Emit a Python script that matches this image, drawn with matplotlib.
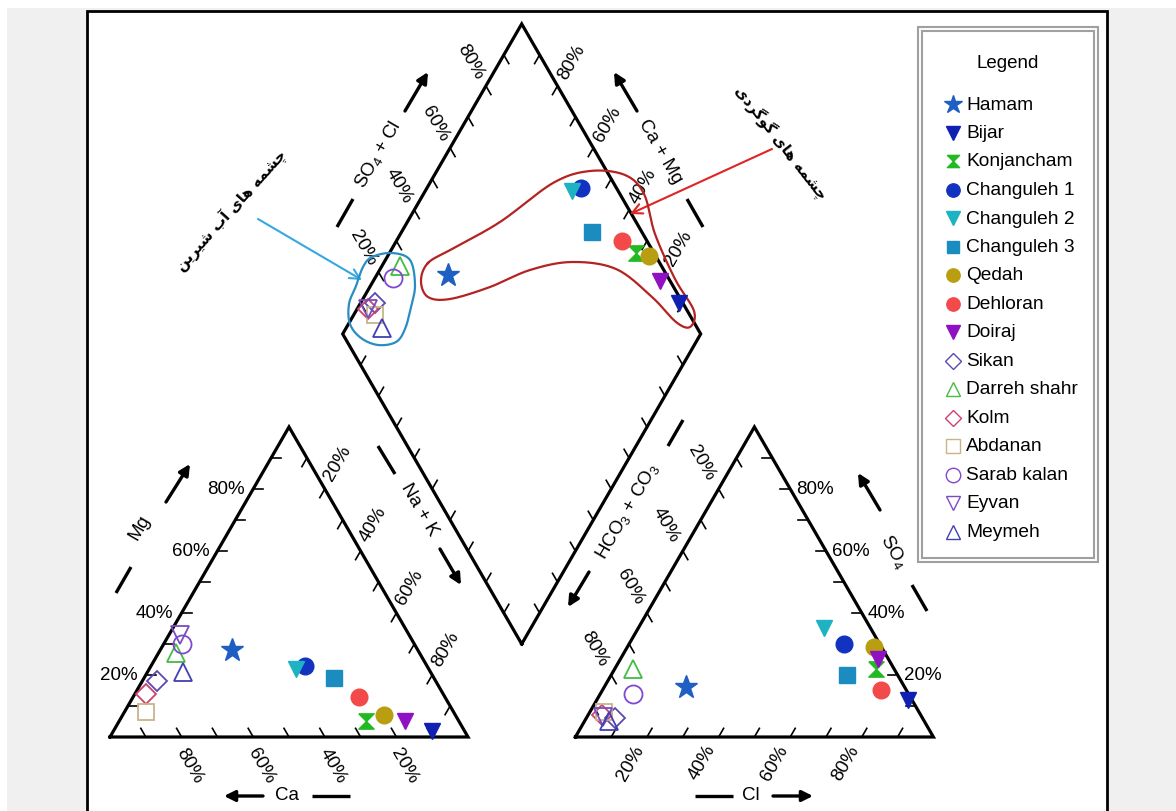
import numpy as np
import matplotlib
matplotlib.use('Agg')
import matplotlib.pyplot as plt
from matplotlib.path import Path
from matplotlib.patches import Rectangle

plt.rcParams['font.family'] = ['Liberation Sans', 'DejaVu Sans']
plt.rcParams['mathtext.fontset'] = 'custom'
plt.rcParams['mathtext.rm'] = 'Liberation Sans'
plt.rcParams['mathtext.it'] = 'Liberation Sans:italic'

# ---------------- data (meq %) ----------------
names = ['Hamam', 'Bijar', 'Konjancham', 'Changuleh 1', 'Changuleh 2', 'Changuleh 3',
         'Qedah', 'Dehloran', 'Doiraj', 'Sikan', 'Darreh shahr', 'Kolm', 'Abdanan',
         'Sarab kalan', 'Eyvan', 'Meymeh']
ca   = [52, 9, 26, 34, 37, 28, 20, 24, 15, 78, 68, 83, 86, 65, 64, 69]
mg   = [28, 2, 5, 23, 22, 19, 7, 13, 5, 18, 27, 14, 8, 30, 33, 21]
nak  = [20, 89, 69, 43, 41, 53, 73, 63, 80, 4, 5, 3, 6, 5, 3, 10]
hco3 = [61, 1, 5, 10, 13, 14, 2, 7, 3, 86, 73, 89, 88, 77, 89, 88]
so4  = [16, 12, 22, 30, 35, 20, 29, 15, 25, 6, 22, 7, 8, 14, 6.5, 5]
cl   = [23, 87, 73, 60, 52, 66, 69, 78, 72, 8, 5, 4, 4, 9, 4.5, 7]
pct_ticks = [20, 40, 60, 80]

colors = ['#1f5fc4', '#1020b0', '#22b922', '#1232c0', '#1fb2c2', '#1a8cc0',
          '#b89e10', '#f24a4a', '#9010c4', '#5a4aae', '#44bb44', '#d0406e',
          '#c8b488', '#8048d0', '#7a4cc0', '#4040b4']
hourglass = Path([(-1, 1), (1, 1), (0, 0), (1, -1), (-1, -1), (0, 0), (-1, 1)])
markers = ['*', 'v', hourglass, 'o', 'v', 's', 'o', 'o', 'v', 'D', '^', 'D', 's', 'o', 'v', '^']
filled  = [True]*9 + [False]*7
msizes  = [17, 12, 11, 12, 12, 11, 12, 12, 12, 10, 13, 10, 12, 13, 13, 13]

# ---------------- geometry ----------------
W, H = 1176, 812
S, X0, Y0 = 358.0, 110.0, 738.0
h = np.sqrt(3) / 2
g = 0.3


def P(px, py):
    return ((px - X0) / S, (Y0 - py) / S)


def cat_xy(a, m, n):
    t = a + m + n
    return n / t + 0.5 * m / t, h * m / t


def an_xy(b, s, c):
    t = b + s + c
    return 1 + g + c / t + 0.5 * s / t, h * s / t


def dia_xy(a, m, n, b, s, c):
    camg = (a + m) / (a + m + n)
    so4cl = (s + c) / (b + s + c)
    bx, by = 1 + g / 2, g * h
    return bx + 0.5 * (so4cl - camg), by + h * (camg + so4cl)


fig = plt.figure(figsize=(W / 100, H / 100), dpi=100, facecolor='white')
ax = fig.add_axes([0, 0, 1, 1])
ax.set_xlim(P(0, 0)[0], P(W, 0)[0])
ax.set_ylim(P(0, H)[1], P(0, 0)[1])
ax.set_aspect('equal')
ax.axis('off')
ax.patch.set_visible(False)

# background and panel
x, y = P(7, H)
ax.add_patch(Rectangle((x, y), (W - 7) / S, (H - 9) / S, facecolor='#f0f0f0', edgecolor='none', zorder=0))
x, y = P(87, 840)
ax.add_patch(Rectangle((x, y), (1107 - 87) / S, (840 - 12) / S, facecolor='white', edgecolor='black', lw=2, zorder=0.5))

A0, A1, A2 = np.array([0, 0]), np.array([1, 0]), np.array([0.5, h])
B0, B1, B2 = np.array([1 + g, 0]), np.array([2 + g, 0]), np.array([1.5 + g, h])
Db = np.array([1 + g / 2, g * h])
Dl, Dt, Dr = Db + [-0.5, h], Db + [0, 2 * h], Db + [0.5, h]

LW = 2.3
for poly in ([A0, A1, A2, A0], [B0, B1, B2, B0], [Db, Dl, Dt, Dr, Db]):
    poly = np.array(poly)
    ax.plot(poly[:, 0], poly[:, 1], color='black', lw=LW, solid_joinstyle='miter', zorder=2)

# ticks every 10 %
L = 10 / S
edges = [(A0, A1, (-0.5, h)), (A0, A2, (1, 0)), (A2, A1, (-0.5, -h)),
         (B0, B1, (0.5, h)), (B1, B2, (-1, 0)), (B2, B0, (0.5, -h)),
         (Dl, Dt, (0.5, -h)), (Dr, Dt, (-0.5, -h)), (Db, Dl, (0.5, h)), (Db, Dr, (-0.5, h))]
for p0, p1, d in edges:
    d = np.array(d) / np.hypot(*d)
    for k in range(1, 10):
        p = p0 + (p1 - p0) * k / 10
        ax.plot([p[0], p[0] + L * d[0]], [p[1], p[1] + L * d[1]], color='black', lw=1.2, zorder=2)

FS = 13.5


def off(dx, dy):
    return np.array([dx / S, -dy / S])


for v in pct_ticks:
    f = v / 100
    t = f'{v}%'
    # cation bottom (Ca)
    p = A0 + (A1 - A0) * (1 - f) + off(8, 28)
    ax.text(p[0], p[1], t, rotation=-60, ha='center', va='center', fontsize=FS)
    # cation left (Mg)
    p = A0 + (A2 - A0) * f + off(-8, 0)
    ax.text(p[0], p[1], t, ha='right', va='center', fontsize=FS)
    # cation right (Na+K)
    p = A2 + (A1 - A2) * f + off(13, -27)
    ax.text(p[0], p[1], t, rotation=60, ha='center', va='center', fontsize=FS)
    # anion bottom (Cl)
    p = B0 + (B1 - B0) * f + off(-16, 25)
    ax.text(p[0], p[1], t, rotation=60, ha='center', va='center', fontsize=FS)
    # anion right (SO4)
    p = B1 + (B2 - B1) * f + off(6, 0)
    ax.text(p[0], p[1], t, ha='left', va='center', fontsize=FS)
    # anion left (HCO3+CO3)
    p = B2 + (B0 - B2) * f + off(-17, -27)
    ax.text(p[0], p[1], t, rotation=-60, ha='center', va='center', fontsize=FS)
    # diamond upper-left (SO4+Cl)
    p = Dl + (Dt - Dl) * f + off(-15, -25)
    ax.text(p[0], p[1], t, rotation=-60, ha='center', va='center', fontsize=FS)
    # diamond upper-right (Ca+Mg)
    p = Dr + (Dt - Dr) * f + off(14, -24)
    ax.text(p[0], p[1], t, rotation=60, ha='center', va='center', fontsize=FS)

# axis names with dash and arrow
FN = 13.5


def arrow(tail, tip):
    ax.annotate('', xy=P(*tip), xytext=P(*tail),
                arrowprops=dict(arrowstyle='-|>', lw=2.4, color='black', mutation_scale=16,
                                shrinkA=0, shrinkB=0))


def dash(a, b):
    pa, pb = P(*a), P(*b)
    ax.plot([pa[0], pb[0]], [pa[1], pb[1]], color='black', lw=2.4, solid_capstyle='butt')


def name(pos, txt, rot):
    ax.text(*P(*pos), txt, rotation=rot, ha='center', va='center', fontsize=FN)

# Mg
dash((116, 594), (131, 568)); name((140, 528), 'Mg', 60); arrow((166, 503), (190, 465))
# Ca
arrow((263, 797), (224, 797)); name((287, 796), 'Ca', 0); dash((312, 797), (350, 797))
# Cl
dash((695, 797), (733, 797)); name((751, 796), 'Cl', 0); arrow((773, 797), (813, 797))
# SO4 (anion)
arrow((880, 511), (858, 474)); name((894, 552), r'SO$_4$', -60); dash((912, 586), (927, 612))
# SO4 + Cl
dash((337, 228), (353, 200)); name((378, 155), r'SO$_4$ + Cl', 60); arrow((405, 112), (428, 73))
# Ca + Mg
arrow((637, 112), (614, 73)); name((660, 152), 'Ca + Mg', -60); dash((687, 200), (703, 228))
# Na + K
dash((378, 447), (395, 475)); name((419, 510), 'Na + K', -60); arrow((440, 550), (461, 586))
# HCO3 + CO3
arrow((589, 573), (568, 608)); name((627, 511), r'HCO$_3$ + CO$_3$', 60); dash((668, 447), (683, 421))

# ---------------- data points ----------------
for i in range(len(names)):
    kw = dict(marker=markers[i], ls='none', ms=msizes[i], mec=colors[i],
              mfc=colors[i] if filled[i] else 'none', mew=1.0 if filled[i] else 1.3, zorder=5 + i * 0.01)
    cx, cy = cat_xy(ca[i], mg[i], nak[i])
    axx, ayy = an_xy(hco3[i], so4[i], cl[i])
    dx, dy = dia_xy(ca[i], mg[i], nak[i], hco3[i], so4[i], cl[i])
    ax.plot([cx, axx, dx], [cy, ayy, dy], **kw)

# ---------------- legend ----------------
x, y = P(918, 563)
ax.add_patch(Rectangle((x, y), 180 / S, 535 / S, fill=False, edgecolor='#a0a0a0', lw=1.5, zorder=3))
x, y = P(922, 559)
ax.add_patch(Rectangle((x, y), 172 / S, 527 / S, fill=False, edgecolor='#a0a0a0', lw=1.5, zorder=3))
ax.text(*P(1008, 63), 'Legend', ha='center', va='center', fontsize=13.5)
for i, nm in enumerate(names):
    yy = 105 + 28.5 * i
    ax.plot(*P(953, yy), marker=markers[i], ls='none', ms=msizes[i] * 0.8, mec=colors[i],
            mfc=colors[i] if filled[i] else 'none', mew=1.0, zorder=5)
    ax.text(*P(966, yy), nm, ha='left', va='center', fontsize=13.8)

# ---------------- annotations ----------------


def closed_spline(pts, n=24):
    pts = np.asarray(pts, float)
    N = len(pts)
    out = []
    t = np.linspace(0, 1, n, endpoint=False)[:, None]
    for i in range(N):
        p0, p1, p2, p3 = pts[(i - 1) % N], pts[i], pts[(i + 1) % N], pts[(i + 2) % N]
        out.append(0.5 * ((2 * p1) + (-p0 + p2) * t + (2 * p0 - 5 * p1 + 4 * p2 - p3) * t ** 2
                          + (-p0 + 3 * p1 - 3 * p2 + p3) * t ** 3))
    out = np.vstack(out)
    return np.vstack([out, out[:1]])


blue_loop = [(372, 258), (392, 254), (410, 261), (415, 286), (411, 308), (405, 330), (396, 343),
             (378, 346), (361, 339), (350, 325), (349, 305), (356, 287), (363, 268)]
red_loop = [(428, 264), (452, 250), (500, 223), (553, 184), (590, 172), (625, 176), (644, 195),
            (655, 235), (675, 280), (694, 312), (690, 328), (676, 323), (652, 298), (616, 270),
            (572, 263), (530, 271), (490, 288), (450, 300), (428, 298), (421, 282)]
for loop, col in ((blue_loop, '#2a8cc4'), (red_loop, '#b42222')):
    c = closed_spline(loop)
    cx = (c[:, 0] - X0) / S
    cy = (Y0 - c[:, 1]) / S
    ax.plot(cx, cy, color=col, lw=1.6, zorder=4)

ax.annotate('', xy=P(362, 281), xytext=P(258, 220),
            arrowprops=dict(arrowstyle='->', color='#35a8e0', lw=1.5, mutation_scale=18, shrinkA=0, shrinkB=0))
ax.annotate('', xy=P(630, 215), xytext=P(772, 150),
            arrowprops=dict(arrowstyle='->', color='#e02424', lw=1.5, mutation_scale=18, shrinkA=0, shrinkB=0))

# Persian labels (shaped presentation forms, visual order)
w_cheshmeh = '\uFB7C\uFEB8\uFEE4\uFEEA'
w_haye = '\uFEEB\uFE8E\uFBFC'
w_ab = '\uFE81\uFE8F'
w_shirin = '\uFEB7\uFBFF\uFEAE\uFBFE\uFEE6'
w_gogerdi = '\uFB94\uFEEE\uFB94\uFEAE\uFEA9\uFBFC'
fresh = ' '.join([w_cheshmeh, w_haye, w_ab, w_shirin])[::-1]
sulfur = ' '.join([w_cheshmeh, w_haye, w_gogerdi])[::-1]
ax.text(*P(232, 211), fresh, rotation=48, ha='center', va='center', fontsize=10.5,
        fontweight='bold', family=['DejaVu Sans'], rotation_mode='anchor')
ax.text(*P(781, 143), sulfur, rotation=-52, ha='center', va='center', fontsize=10.5,
        fontweight='bold', family=['DejaVu Sans'], rotation_mode='anchor')

fig.savefig('out.png', dpi=100, facecolor=fig.get_facecolor())
